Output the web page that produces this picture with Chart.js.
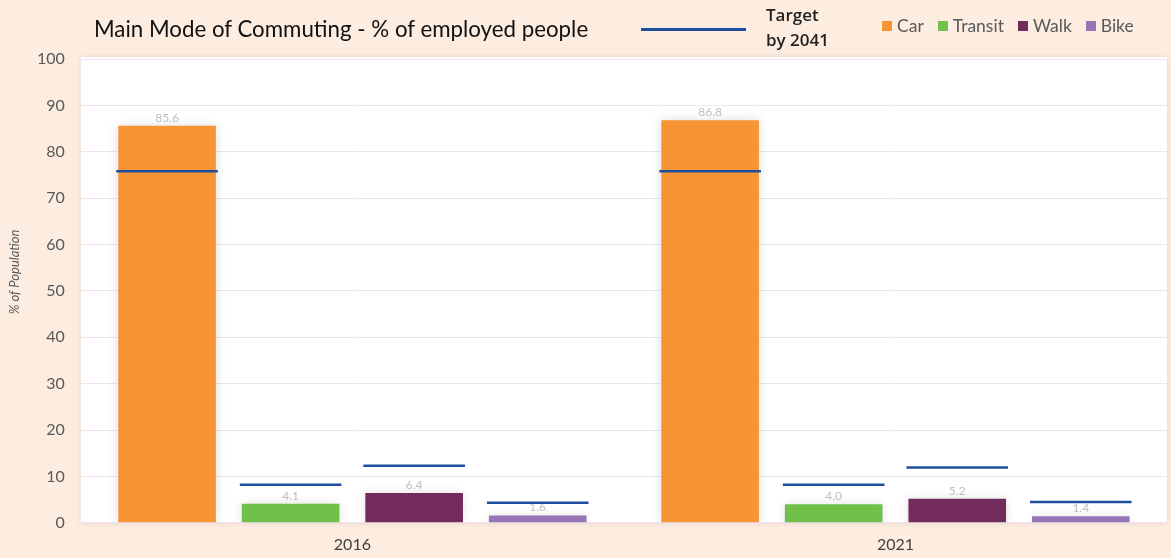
<!DOCTYPE html>
<html>
<head>
<meta charset="utf-8">
<script src="https://cdn.jsdelivr.net/npm/chart.js@4/dist/chart.umd.min.js"></script>
<style>
  html, body { margin: 0; padding: 0; background: #FDEDE0; }
  #wrap { position: relative; width: 1171px; height: 558px; }
  #title { position: absolute; left: 94px; top: 15px; font: 22.3px Lato, sans-serif; color: #111; }
  #targetLine { position: absolute; left: 641px; top: 28px; width: 105px; height: 3px; background: #1F4E9E; }
  #targetText { position: absolute; left: 766px; top: 2px; font: 600 17px "Open Sans", sans-serif; color: #222; line-height: 25px; }
  #legend { position: absolute; left: 882px; top: 15px; display: flex; gap: 14px; font: 17.5px Lato, sans-serif; color: #595959; }
  #legend span.item { display: flex; align-items: center; }
  #legend span.box { display: inline-block; width: 10px; height: 10px; margin-right: 5px; }
</style>
</head>
<body>
<div id="wrap">
  <canvas id="chart" width="1171" height="558"></canvas>
  <div id="title">Main Mode of Commuting - % of employed people</div>
  <div id="targetLine"></div>
  <div id="targetText">Target<br>by 2041</div>
  <div id="legend"></div>
</div>
<script>
// =========================
// Data
// =========================

const categories = ["2016", "2021"];
const modes = ["Car", "Transit", "Walk", "Bike"];

const carValues     = [85.6, 86.8];
const transitValues = [4.1, 4.0];
const walkValues    = [6.4, 5.2];
const bikeValues    = [1.6, 1.4];

// target by 2041 (blue lines)
const carTarget     = [75.8, 75.8];
const transitTarget = [8.2, 8.2];
const walkTarget    = [12.3, 11.9];
const bikeTarget    = [4.3, 4.5];

const yMax = 100;
const yStep = 10;
const yTitle = "% of Population";

const colors = ["#F79433", "#70C04A", "#722B5A", "#9575B8"];
const targetColor = "#1F4E9E";

// =========================
// Legend
// =========================

const legendEl = document.getElementById("legend");
modes.forEach((m, i) => {
    const item = document.createElement("span");
    item.className = "item";
    item.innerHTML = `<span class="box" style="background:${colors[i]}"></span>${m}`;
    legendEl.appendChild(item);
});

// =========================
// Plugins
// =========================

const plotBg = {
    id: "plotBg",
    beforeDraw(chart) {
        const {ctx, chartArea: a} = chart;
        ctx.save();
        ctx.shadowColor = "rgba(0,0,0,0.10)";
        ctx.shadowBlur = 6;
        ctx.fillStyle = "#ffffff";
        ctx.fillRect(a.left, a.top - 2, a.right - a.left, a.bottom - a.top + 2);
        ctx.restore();
    }
};

const barShadow = {
    id: "barShadow",
    beforeDatasetDraw(chart) {
        const ctx = chart.ctx;
        ctx.save();
        ctx.shadowColor = "rgba(0,0,0,0.13)";
        ctx.shadowBlur = 10;
    },
    afterDatasetDraw(chart) {
        chart.ctx.restore();
    }
};

// axis title sits a bit above the middle in the original
const yTitlePlugin = {
    id: "yTitlePlugin",
    afterDraw(chart) {
        const {ctx, chartArea: a} = chart;
        ctx.save();
        ctx.translate(15, (a.top + a.bottom) / 2 - 19);
        ctx.rotate(-Math.PI / 2);
        ctx.font = "italic 13px Lato, sans-serif";
        ctx.fillStyle = "#595959";
        ctx.textAlign = "center";
        ctx.textBaseline = "middle";
        ctx.fillText(yTitle, 0, 0);
        ctx.restore();
    }
};

const targets = [carTarget, transitTarget, walkTarget, bikeTarget];

const labelsAndTargets = {
    id: "labelsAndTargets",
    afterDatasetsDraw(chart) {
        const {ctx, scales: {y}} = chart;
        ctx.save();
        // value labels
        ctx.font = "12px Lato, sans-serif";
        ctx.fillStyle = "#BFBFBF";
        ctx.textAlign = "center";
        ctx.textBaseline = "bottom";
        chart.data.datasets.forEach((ds, di) => {
            chart.getDatasetMeta(di).data.forEach((bar, i) => {
                ctx.fillText(ds.data[i].toFixed(1), bar.x, bar.y - 2);
            });
        });
        // target lines
        ctx.strokeStyle = targetColor;
        ctx.lineWidth = 2.5;
        targets.forEach((t, di) => {
            chart.getDatasetMeta(di).data.forEach((bar, i) => {
                const py = y.getPixelForValue(t[i]);
                ctx.beginPath();
                ctx.moveTo(bar.x - bar.width / 2 - 2, py);
                ctx.lineTo(bar.x + bar.width / 2 + 2, py);
                ctx.stroke();
            });
        });
        ctx.restore();
    }
};

// =========================
// Chart
// =========================

new Chart(document.getElementById("chart"), {
    type: "bar",
    data: {
        labels: categories,
        datasets: [
            { label: modes[0], data: carValues,     backgroundColor: colors[0] },
            { label: modes[1], data: transitValues, backgroundColor: colors[1] },
            { label: modes[2], data: walkValues,    backgroundColor: colors[2] },
            { label: modes[3], data: bikeValues,    backgroundColor: colors[3] }
        ]
    },
    options: {
        responsive: false,
        animation: false,
        devicePixelRatio: 1,
        layout: { padding: { top: 59, right: 4, left: 21, bottom: 0 } },
        plugins: { legend: { display: false }, tooltip: { enabled: false } },
        datasets: { bar: { barPercentage: 0.79, categoryPercentage: 0.91 } },
        scales: {
            x: {
                grid: { display: false },
                border: { display: false },
                ticks: { color: "#404040", font: { family: "Lato", size: 16 }, padding: 4 }
            },
            y: {
                min: 0,
                max: yMax,
                ticks: { stepSize: yStep, color: "#595959", font: { family: "Lato", size: 16 }, padding: 16 },
                grid: { color: "#EFE3F5", drawTicks: false },
                border: { display: false }
            }
        }
    },
    plugins: [plotBg, barShadow, labelsAndTargets, yTitlePlugin]
});
</script>
</body>
</html>
